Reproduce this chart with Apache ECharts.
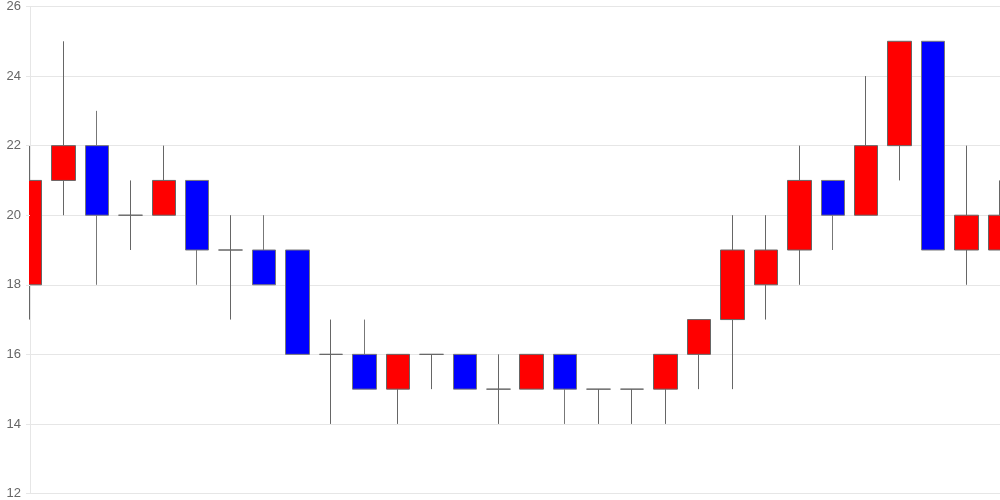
<!DOCTYPE html>
<html><head><meta charset="utf-8">
<script src="https://cdn.jsdelivr.net/npm/echarts@6/dist/echarts.min.js"></script>
<style>html,body{margin:0;padding:0;background:#fff}#c{width:1000px;height:500px}</style>
</head><body><div id="c"></div>
<script>
const categories = ['1','2','3','4','5','6','7','8','9','10','11','12','13','14','15','16','17','18','19','20','21','22','23','24','25','26','27','28','29','30'];
const opens  = [18,21,22,20,20,21,19,19,19,16,16,15,16,16,15,15,16,15,15,15,16,17,18,19,21,20,22,25,19,19];
const closes = [21,22,20,20,21,19,19,18,16,16,15,16,16,15,15,16,15,15,15,16,17,19,19,21,20,22,25,19,20,20];
const lows   = [17,20,18,19,20,18,17,18,16,14,15,14,15,15,14,15,14,14,14,14,15,15,17,18,19,20,21,19,18,19];
const highs  = [22,25,23,21,22,21,20,20,19,17,17,16,16,16,16,16,16,15,15,16,17,20,20,22,21,24,25,25,22,21];
const yTicks = [12,14,16,18,20,22,24,26];

const gridLeft = 30;
const data = categories.map((c,i)=>[opens[i],closes[i],lows[i],highs[i]]);
const yMin = yTicks[0], yMax = yTicks[yTicks.length-1];
const chart = echarts.init(document.getElementById('c'), null, {renderer:'canvas'});
chart.setOption({
  animation:false,
  grid:{left:gridLeft,right:0,top:6,bottom:6,containLabel:false},
  graphic:[{type:'rect',z:5,shape:{x:0,y:0,width:gridLeft-1,height:500},style:{fill:'#fff'},silent:true}],
  xAxis:{type:'category',data:categories,boundaryGap:false,
    axisLine:{show:true,lineStyle:{color:'#e6e6e6'}},axisTick:{show:false},axisLabel:{show:false},splitLine:{show:false}},
  yAxis:[
    {type:'value',min:yMin,max:yMax,interval:2,
      axisLine:{show:true,lineStyle:{color:'#e6e6e6'}},axisTick:{show:false},axisLabel:{show:false},
      splitLine:{show:true,lineStyle:{color:'#e6e6e6'}}},
    {type:'value',position:'left',z:10,min:yMin,max:yMax,interval:2,
      axisLine:{show:false},
      axisTick:{show:true,length:4,lineStyle:{color:'#e6e6e6'}},
      axisLabel:{color:'#666',fontSize:13,margin:9,fontFamily:'Arial, Liberation Sans, sans-serif'},
      splitLine:{show:false}}
  ],
  series:[{type:'candlestick',data:data,barWidth:24,yAxisIndex:0,
    itemStyle:{color:'#ff0000',color0:'#0000ff',borderColor:'#666',borderColor0:'#777',borderWidth:1}}]
});
</script></body></html>
